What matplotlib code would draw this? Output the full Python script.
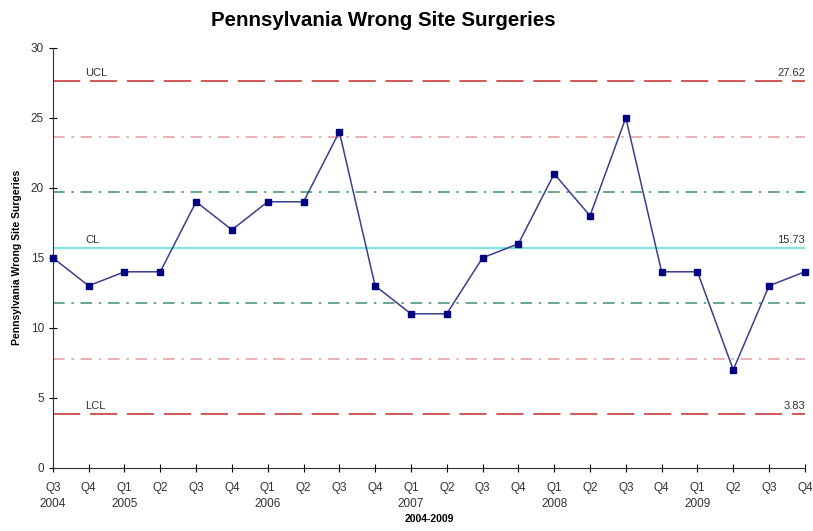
import matplotlib
matplotlib.use("Agg")
import matplotlib.pyplot as plt
import numpy as np

plt.rcParams['font.family'] = ['Liberation Sans', 'DejaVu Sans']

quarters = ["Q3\n2004", "Q4", "Q1\n2005", "Q2", "Q3", "Q4", "Q1\n2006", "Q2", "Q3", "Q4",
            "Q1\n2007", "Q2", "Q3", "Q4", "Q1\n2008", "Q2", "Q3", "Q4", "Q1\n2009", "Q2", "Q3", "Q4"]
surgeries = [15, 13, 14, 14, 19, 17, 19, 19, 24, 13, 11, 11, 15, 16, 21, 18, 25, 14, 14, 7, 13, 14]
ucl = 27.62
cl = 15.73
lcl = 3.83

sigma = (ucl - cl) / 3.0

fig = plt.figure(figsize=(8.13, 5.31), dpi=100)
ax = fig.add_axes([0.065, 0.119, 0.925, 0.791])

x = np.arange(len(surgeries))
n = len(surgeries) - 1

# control lines
ax.axhline(ucl, color="#d0585a", lw=1.4, dashes=(14, 5))
ax.axhline(lcl, color="#d0585a", lw=1.4, dashes=(14, 5))
ax.axhline(cl + 2 * sigma, color="#e8a3a8", lw=1.2, dashes=(7, 4, 1.5, 4))
ax.axhline(cl - 2 * sigma, color="#e8a3a8", lw=1.2, dashes=(7, 4, 1.5, 4))
ax.axhline(cl + sigma, color="#4f9a7a", lw=1.2, dashes=(7, 4, 1.5, 4))
ax.axhline(cl - sigma, color="#4f9a7a", lw=1.2, dashes=(7, 4, 1.5, 4))
ax.axhline(cl, color="#7fe3e3", lw=1.6)

ax.plot(x, surgeries, color="#3c3c90", lw=1.1, marker="s", markersize=5,
        markerfacecolor="#000080", markeredgecolor="#000080", clip_on=False, zorder=5)

# labels
ax.text(0.9, ucl + 0.2, "UCL", fontsize=8, color="#333333", va="bottom")
ax.text(0.9, cl + 0.2, "CL", fontsize=8, color="#333333", va="bottom")
ax.text(0.9, lcl + 0.2, "LCL", fontsize=8, color="#333333", va="bottom")
ax.text(n, ucl + 0.2, f"{ucl:.2f}", fontsize=8, color="#333333", va="bottom", ha="right")
ax.text(n, cl + 0.2, f"{cl:.2f}", fontsize=8, color="#333333", va="bottom", ha="right")
ax.text(n, lcl + 0.2, f"{lcl:.2f}", fontsize=8, color="#333333", va="bottom", ha="right")

ax.set_xlim(0, n)
ax.set_ylim(0, 30)
ax.set_yticks(np.arange(0, 31, 5))
ax.set_xticks(x)
ax.set_xticklabels(quarters, fontsize=8.5, color="#333333", linespacing=1.5)
ax.tick_params(axis="y", labelsize=8.5, labelcolor="#333333", direction="inout", length=6)
ax.tick_params(axis="x", direction="inout", length=6, pad=7)

for s in ["top", "right"]:
    ax.spines[s].set_visible(False)
for s in ["left", "bottom"]:
    ax.spines[s].set_color("#333333")

ax.set_ylabel("Pennsylvania Wrong Site Surgeries", fontsize=7.5, fontweight="bold", labelpad=6)
ax.set_xlabel("2004-2009", fontsize=7.5, fontweight="bold", labelpad=3)
fig.text(0.471, 0.962, "Pennsylvania Wrong Site Surgeries", fontsize=14.8, fontweight="bold",
         ha="center", va="center")

fig.savefig("out.png", dpi=100)
